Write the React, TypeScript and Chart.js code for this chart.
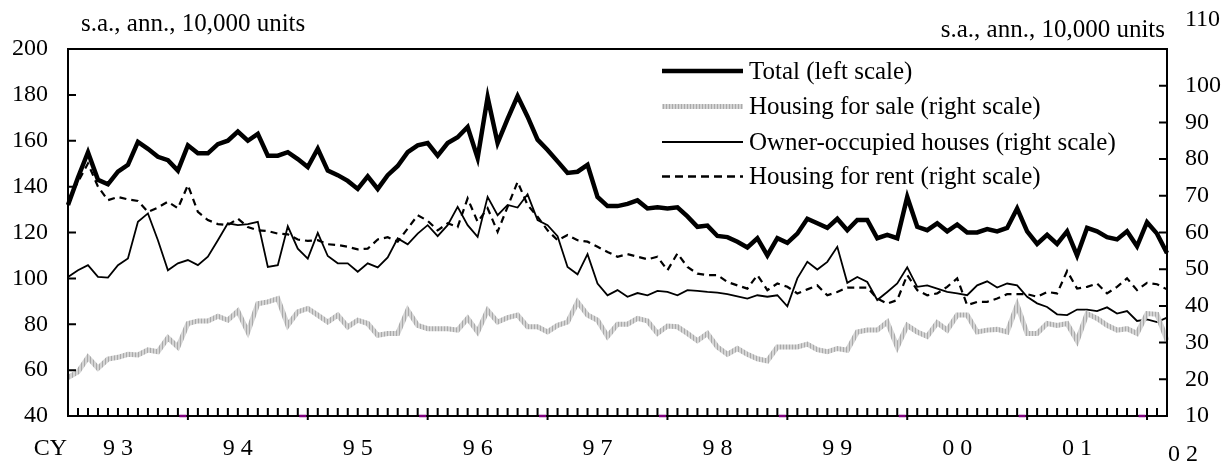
import React, { useEffect, useRef } from 'react';
import { Chart, registerables } from 'chart.js';

Chart.register(...registerables);

// ---------- data ----------
const YEARS = ['93', '94', '95', '96', '97', '98', '99', '00', '01', '02'];
const MONTHS = ['01', '02', '03', '04', '05', '06', '07', '08', '09', '10', '11', '12'];
const N_POINTS = 111; // Jan 1993 .. Mar 2002
const CATEGORIES: string[] = [];
for (const y of YEARS) for (const m of MONTHS) if (CATEGORIES.length < N_POINTS) CATEGORIES.push(`${y}/${m}`);

const YEAR_TICK_LABELS = ['9 3', '9 4', '9 5', '9 6', '9 7', '9 8', '9 9', '0 0', '0 1'];
const LAST_YEAR_LABEL = '0 2';
const CY_LABEL = 'CY';
const UNIT_LABEL = 's.a., ann., 10,000 units';

const LEFT_TICKS = [40, 60, 80, 100, 120, 140, 160, 180, 200];
const RIGHT_TICKS = [10, 20, 30, 40, 50, 60, 70, 80, 90, 100, 110];

const SERIES_NAMES = [
  'Total (left scale)',
  'Housing for sale (right scale)',
  'Owner-occupied houses (right scale)',
  'Housing for rent (right scale)',
];

const TOTAL = [
  132, 144, 155, 143, 141, 146.5, 149.5, 159.5, 156.5, 153, 151.5, 147,
  158, 154.5, 154.5, 158.5, 160, 164, 160, 163, 153.5, 153.5, 155, 152,
  148.5, 156.5, 147, 145, 142.5, 139, 144.5, 139, 145, 149, 155, 158,
  159, 153.5, 159, 161.5, 166, 152.5, 179, 159, 169.5, 179.5, 170.5, 160.5,
  156, 151, 146, 146.5, 149.5, 135.5, 131.5, 131.5, 132.5, 134, 130.5, 131,
  130.5, 131, 127, 122.5, 123, 118.5, 118, 116, 113.5, 117.5, 110, 117.5,
  115.5, 119.5, 126, 124, 122, 126, 121, 125.5, 125.5, 117.5, 119, 117.5,
  135.5, 122.5, 121, 124, 120.5, 123.5, 120, 120, 121.5, 120.5, 122, 130.5,
  120.5, 115, 119, 115, 120.5, 110, 122, 120.5, 118, 117, 120.5, 114,
  124.5, 119.5, 111,
];

const FOR_SALE = [
  20.5, 22, 26, 23, 25.5, 26, 26.8, 26.6, 28, 27.5, 31.3, 28.8,
  35.2, 35.9, 35.9, 37.2, 36.1, 38.6, 32.9, 40.6, 41.1, 42, 34.7, 38.4,
  39.3, 37.5, 35.6, 37.5, 34.3, 36.1, 35.2, 32, 32.5, 32.5, 38.8, 34.7,
  33.8, 33.8, 33.8, 33.4, 36.6, 32.9, 38.8, 35.6, 36.8, 37.5, 34.3, 34.3,
  32.9, 34.7, 35.6, 41.1, 37.5, 36.1, 31.7, 35, 35, 36.6, 35.9, 32.5,
  34.5, 34.3, 32.5, 30.5, 32.5, 28.8, 26.8, 28.4, 26.8, 25.6, 25, 28.8,
  28.8, 28.8, 29.6, 28.1, 27.5, 28.4, 27.9, 32.9, 33.4, 33.4, 35.6, 28.8,
  34.7, 32.9, 31.7, 35.4, 33.4, 37.5, 37.5, 32.9, 33.4, 33.6, 32.9, 40.2,
  32.5, 32.5, 35.2, 34.7, 35.2, 30.5, 37.9, 36.6, 34.7, 33.4, 33.8, 32.5,
  37.9, 37.7, 30.6,
];

const OWNER = [
  47.9, 49.7, 51.1, 47.9, 47.7, 51.1, 52.9, 62.9, 65.2, 57.9, 49.7, 51.6,
  52.5, 51.1, 53.4, 57.9, 62.5, 62, 62.3, 62.9, 50.6, 51.1, 61.7, 55.6,
  52.9, 59.9, 53.6, 51.6, 51.6, 49.3, 51.6, 50.5, 53.2, 58.4, 56.8, 59.7,
  62, 59, 62, 67, 62, 58.8, 69.7, 64.7, 67.5, 66.8, 70.4, 63.4,
  62, 59, 50.6, 48.6, 54.1, 46.1, 42.9, 44.3, 42.5, 43.5, 42.9, 44.1,
  43.8, 42.9, 44.3, 44.1, 43.8, 43.6, 43.2, 42.6, 42, 42.9, 42.5, 42.9,
  39.9, 47.5, 52, 49.9, 52, 56.1, 46.3, 47.9, 46.5, 41.6, 43.8, 46.1,
  50.5, 45.2, 45.6, 44.7, 43.8, 43.4, 42.9, 45.6, 46.7, 45, 46.1, 45.6,
  42.5, 40.7, 39.7, 37.7, 37.5, 39, 39, 38.6, 39.6, 37.9, 38.6, 35.9,
  36.3, 35.6, 36.8,
];

const FOR_RENT = [
  68.8, 73.8, 78.8, 72.5, 68.8, 69.7, 69, 68.6, 65.6, 66.8, 68.4, 66.6,
  72.9, 65.6, 63.4, 62.3, 62, 63.8, 61.5, 60.6, 60.4, 59.7, 59.5, 58.1,
  57.7, 57.9, 56.8, 56.6, 56.1, 55.4, 55.6, 58.1, 58.7, 57.5, 61.1, 64.7,
  63.2, 60.6, 62.5, 61.5, 69.3, 62.9, 66.6, 60.2, 67, 73.8, 67.5, 64.3,
  60.6, 57.9, 59.3, 57.9, 57.5, 56.1, 54.7, 53.4, 54.1, 53.4, 52.7, 53.4,
  49.7, 54.3, 50.6, 48.8, 48.4, 48.4, 46.5, 45.6, 44.7, 48.4, 44.3, 46.1,
  45.2, 43.4, 44.5, 45.6, 42.9, 43.8, 45, 45, 45, 42, 40.6, 41.6,
  48.4, 44.3, 42.9, 43.4, 45.2, 47.5, 40.2, 41.1, 41.1, 42, 43.2, 43.2,
  43.2, 42.5, 43.8, 43.4, 49.5, 44.7, 45.2, 46.1, 43.4, 45.2, 47.5, 44.3,
  46.3, 45.9, 44.5,
];

// ---------- styling helpers ----------
const SERIF = '"Liberation Serif", "Times New Roman", serif';

function makeSalePattern(): CanvasPattern | string {
  const pc = document.createElement('canvas');
  pc.width = 3;
  pc.height = 3;
  const g = pc.getContext('2d');
  if (!g) return '#c0c0c0';
  g.fillStyle = '#d4d4d4';
  g.fillRect(0, 0, 3, 3);
  g.fillStyle = '#aaaaaa';
  g.fillRect(0, 0, 1, 3);
  const p = g.createPattern(pc, 'repeat');
  return p || '#c0c0c0';
}

export default function App() {
  const ref = useRef<HTMLCanvasElement>(null);

  useEffect(() => {
    const canvas = ref.current;
    if (!canvas) return;
    const salePattern = makeSalePattern();

    const overlay = {
      id: 'overlay',
      afterDatasetsDraw(chart: any) {
        const { ctx, chartArea: a, scales } = chart;
        const xs = scales.x;
        const yl = scales.yL;
        const yr = scales.yR;
        ctx.save();
        ctx.strokeStyle = '#000';
        ctx.lineWidth = 2;
        ctx.lineCap = 'butt';
        ctx.strokeRect(a.left, a.top, a.right - a.left, a.bottom - a.top);
        ctx.beginPath();
        for (const v of LEFT_TICKS) {
          const py = yl.getPixelForValue(v);
          ctx.moveTo(a.left, py);
          ctx.lineTo(a.left + 8, py);
        }
        for (const v of RIGHT_TICKS) {
          const py = yr.getPixelForValue(v);
          ctx.moveTo(a.right - 8, py);
          ctx.lineTo(a.right, py);
        }
        for (let i = 1; i < CATEGORIES.length; i++) {
          const px = xs.getPixelForValue(i);
          if (i % 12 === 0) {
            ctx.moveTo(px, a.bottom + 4);
            ctx.lineTo(px, a.bottom - 8);
          } else {
            ctx.moveTo(px, a.bottom);
            ctx.lineTo(px, a.bottom - 8);
          }
        }
        ctx.stroke();
        ctx.strokeStyle = '#800080';
        ctx.lineWidth = 2.5;
        ctx.beginPath();
        for (let i = 12; i < CATEGORIES.length; i += 12) {
          ctx.moveTo(xs.getPixelForValue(i - 1) + 1.5, a.bottom);
          ctx.lineTo(xs.getPixelForValue(i) - 1.5, a.bottom);
        }
        ctx.stroke();
        ctx.restore();
      },
      afterDraw(chart: any) {
        const { ctx, chartArea: a, scales } = chart;
        const xs = scales.x;
        ctx.save();
        ctx.fillStyle = '#000';
        // x-axis labels
        ctx.font = `24px ${SERIF}`;
        ctx.textAlign = 'center';
        ctx.textBaseline = 'middle';
        ctx.fillText(CY_LABEL, 50.5, 449);
        YEAR_TICK_LABELS.forEach((lab, k) => {
          ctx.fillText(lab, xs.getPixelForValue(5 + 12 * k), 449);
        });
        ctx.fillText(LAST_YEAR_LABEL, xs.getPixelForValue(CATEGORIES.length - 1) + 16, 455);
        // top label of right axis
        ctx.textAlign = 'left';
        ctx.fillText(String(RIGHT_TICKS[RIGHT_TICKS.length - 1]), a.right + 18, 20);
        // unit titles
        ctx.font = `25px ${SERIF}`;
        ctx.textAlign = 'left';
        ctx.fillText(UNIT_LABEL, 81, 24);
        ctx.textAlign = 'right';
        ctx.fillText(UNIT_LABEL, 1165, 30);
        // legend
        const rows = [71, 106.5, 142, 176.5];
        const x0 = 662;
        const x1 = 743;
        const styles = [
          { color: '#000', width: 4.5, dash: [] as number[] },
          { color: salePattern, width: 5, dash: [] as number[] },
          { color: '#000', width: 2, dash: [] as number[] },
          { color: '#000', width: 2.5, dash: [8, 5] },
        ];
        styles.forEach((s, i) => {
          ctx.beginPath();
          ctx.strokeStyle = s.color as any;
          ctx.lineWidth = s.width;
          ctx.setLineDash(s.dash);
          ctx.moveTo(x0, rows[i]);
          ctx.lineTo(x1, rows[i]);
          ctx.stroke();
        });
        ctx.setLineDash([]);
        ctx.fillStyle = '#000';
        ctx.textAlign = 'left';
        ctx.textBaseline = 'middle';
        SERIES_NAMES.forEach((name, i) => {
          ctx.fillText(name, 749, rows[i] + 1);
        });
        ctx.restore();
      },
    };

    const chart = new Chart(canvas, {
      type: 'line',
      data: {
        labels: CATEGORIES,
        datasets: [
          {
            label: SERIES_NAMES[0],
            data: TOTAL,
            yAxisID: 'yL',
            borderColor: '#000',
            borderWidth: 4.5,
            pointRadius: 0,
            tension: 0,
            borderJoinStyle: 'miter',
          },
          {
            label: SERIES_NAMES[1],
            data: FOR_SALE,
            yAxisID: 'yR',
            borderColor: salePattern as any,
            borderWidth: 5,
            pointRadius: 0,
            tension: 0,
          },
          {
            label: SERIES_NAMES[2],
            data: OWNER,
            yAxisID: 'yR',
            borderColor: '#000',
            borderWidth: 1.8,
            pointRadius: 0,
            tension: 0,
          },
          {
            label: SERIES_NAMES[3],
            data: FOR_RENT,
            yAxisID: 'yR',
            borderColor: '#000',
            borderWidth: 2.2,
            borderDash: [7, 5],
            pointRadius: 0,
            tension: 0,
          },
        ],
      },
      options: {
        animation: false,
        responsive: true,
        maintainAspectRatio: false,
        layout: { padding: { top: 49, left: 0, right: 0, bottom: 0 } },
        plugins: { legend: { display: false }, tooltip: { enabled: false } },
        events: [],
        scales: {
          x: {
            type: 'category',
            offset: false,
            grid: { display: false, drawTicks: false },
            border: { display: false },
            ticks: { display: false },
            afterFit(s: any) {
              s.height = 45;
            },
          },
          yL: {
            type: 'linear',
            position: 'left',
            min: 40,
            max: 200,
            grid: { display: false, drawTicks: false },
            border: { display: false },
            ticks: {
              stepSize: 20,
              padding: 20,
              color: '#000',
              font: { family: SERIF, size: 24 },
            },
            afterFit(s: any) {
              s.width = 68;
            },
          },
          yR: {
            type: 'linear',
            position: 'right',
            min: 10,
            max: 110,
            grid: { display: false, drawTicks: false },
            border: { display: false },
            ticks: {
              stepSize: 10,
              padding: 18,
              color: '#000',
              font: { family: SERIF, size: 24 },
              callback: (v: any) => (v === 110 ? '' : String(v)),
            },
            afterFit(s: any) {
              s.width = 56;
            },
          },
        },
      },
      plugins: [overlay],
    });
    return () => chart.destroy();
  }, []);

  return (
    <div style={{ position: 'fixed', left: 0, top: 0, width: 1223, height: 461, background: '#fff' }}>
      <canvas ref={ref} />
    </div>
  );
}
